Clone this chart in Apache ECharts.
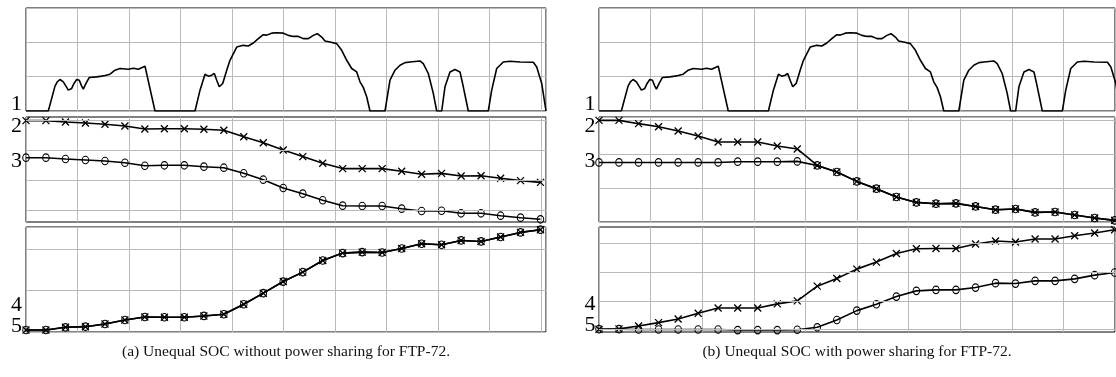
<!DOCTYPE html>
<html>
<head>
<meta charset="utf-8">
<script src="https://cdn.jsdelivr.net/npm/echarts@6/dist/echarts.min.js"></script>
<style>
  html, body { margin: 0; padding: 0; background: #fff; }
  #chart { width: 1116px; height: 377px; }
</style>
</head>
<body>
<div id="chart"></div>
<script>
// FTP-72 drive cycle: time (s) and vehicle speed (km/h)
const SPEED_T = [0, 59.3, 77.1, 83.2, 90.4, 99.2, 108.2, 112.5, 121.5, 127.6, 134.8, 141.7, 148.1, 152.4, 159.5,
  168.3, 188.0, 201.3, 210.1, 223.4, 236.7, 250.0, 272.0, 285.3, 298.6, 316.4, 320.9, 343.0, 449.4, 462.7,
  476.0, 484.7, 493.8, 500.7, 507.1, 514.0, 523.1, 533.7, 542.4, 560.3, 577.8, 591.1, 604.4, 617.7, 631.0,
  640.0, 653.3, 666.6, 684.2, 697.5, 710.8, 724.1, 737.4, 750.7, 763.9, 774.6, 786.3, 795.0, 808.3, 826.2,
  839.5, 852.8, 866.0, 879.3, 888.1, 896.9, 905.9, 914.7, 954.6, 967.9, 981.2, 994.5, 1007.8, 1021.1, 1047.6,
  1056.4, 1069.7, 1083.0, 1092.1, 1105.4, 1114.1, 1127.4, 1140.7, 1154.0, 1162.8, 1176.1, 1229.3, 1238.3, 1251.6,
  1269.2, 1287.0, 1313.6, 1349.0, 1358.0, 1371.3, 1382.7];
const SPEED_KMH = [0, 0, 29.0, 34.0, 36.7, 34.0, 27.5, 24.3, 26.3, 32.1, 36.7, 35.9, 29.0, 25.5, 32.1,
  39.1, 39.8, 40.6, 41.4, 42.9, 47.5, 49.5, 48.7, 49.8, 48.7, 52.2, 50.2, 0, 0, 24.3,
  42.9, 40.6, 41.7, 43.7, 35.9, 28.2, 32.1, 47.5, 59.1, 74.5, 76.5, 75.7, 79.2, 84.3, 88.9,
  88.4, 90.7, 91.2, 90.7, 88.1, 86.9, 86.9, 84.3, 84.3, 88.1, 90.1, 86.1, 81.5, 80.3, 78.5,
  70.7, 59.1, 49.5, 45.5, 34.0, 27.5, 16.6, 0, 0, 35.9, 47.5, 53.3, 56.4, 57.1, 58.3,
  55.3, 43.7, 20.5, 0, 0, 28.2, 45.5, 48.3, 45.5, 28.2, 0, 0, 24.3, 49.5,
  57.1, 58.0, 57.1, 56.8, 51.3, 32.1, 0];

// Sample instants (s) where the pack states are logged
const SAMPLE_T = [0, 53, 105, 158, 210, 263, 316, 368, 421, 473, 526, 579, 631, 684, 736,
  789, 842, 894, 947, 999, 1052, 1105, 1157, 1210, 1262, 1315, 1368];

// (a) without power sharing: SOC (%) of the two packs
const SOC_A_CROSS = [74.9, 74.9, 74.67, 74.5, 74.28, 74.0, 73.5, 73.55, 73.55, 73.45, 73.28, 72.2, 71.2, 70.0,
  68.9, 67.8, 66.9, 66.9, 66.9, 66.45, 65.95, 66.1, 65.67, 65.7, 65.28, 64.9, 64.6];
const SOC_A_CIRCLE = [68.72, 68.72, 68.5, 68.33, 68.17, 67.88, 67.38, 67.45, 67.45, 67.22, 67.05, 66.12, 65.05, 63.67,
  62.72, 61.62, 60.72, 60.67, 60.67, 60.22, 59.83, 59.88, 59.45, 59.45, 59.05, 58.72, 58.45];
// (a) lower trace: both packs identical
const LOW_A = [0.48, 0.48, 1.13, 1.28, 1.93, 2.89, 3.61, 3.54, 3.54, 3.86, 4.27, 6.67, 9.33, 12.12,
  14.39, 17.18, 18.96, 19.2, 19.1, 20.07, 21.2, 20.96, 22.0, 21.76, 22.82, 23.93, 24.58];

// (b) with power sharing
const SOC_B_CROSS = [74.94, 74.94, 74.46, 74.01, 73.38, 72.65, 71.76, 71.76, 71.76, 71.18, 70.74, 68.32, 67.35, 65.97,
  64.9, 63.68, 62.88, 62.69, 62.74, 62.29, 61.81, 61.91, 61.41, 61.47, 61.03, 60.59, 60.24];
const SOC_B_CIRCLE = [68.76, 68.76, 68.76, 68.76, 68.76, 68.76, 68.76, 68.87, 68.87, 68.87, 68.91, 68.32, 67.35, 65.97,
  64.9, 63.68, 62.88, 62.69, 62.74, 62.29, 61.81, 61.91, 61.41, 61.47, 61.03, 60.59, 60.24];
const LOW_B_CROSS = [0.1, 0.2, 1.23, 2.39, 3.68, 5.68, 7.54, 7.54, 7.54, 8.95, 10.0, 15.16, 17.82, 21.12,
  23.58, 26.6, 28.25, 28.35, 28.35, 29.89, 30.95, 30.6, 31.65, 31.65, 32.8, 33.75, 34.91];
const LOW_B_CIRCLE = [0.1, 0.1, 0, 0, 0, 0, 0, -0.2, -0.2, -0.2, -0.1, 0.77, 3.33, 6.6,
  8.84, 11.51, 13.51, 13.86, 13.86, 14.67, 16.21, 16.07, 17.02, 17.02, 17.72, 19.02, 19.93];

// Horizontal reference levels for the rows whose range does not start on a grid level
const GRID_LEVELS_SOC_A = [60, 65, 70, 75];
const GRID_LEVELS_LOW_B = [0, 10, 20, 30];

const CURVE_TAGS = ['1', '2', '3', '4', '5'];
const CAPTIONS = [
  '(a) Unequal SOC without power sharing for FTP-72.',
  '(b) Unequal SOC with power sharing for FTP-72.'
];

const GRID_COLOR = '#b9b9b9';
const SERIF = '"Liberation Serif", "DejaVu Serif", serif';
// cross drawn at roughly its final pixel size so the stroke keeps its width
const CROSS = 'path://M0,0L7,7M7,0L0,7';

const zip = (xs, ys) => xs.map((x, i) => [x, ys[i]]);

const COLS = [
  { left: 26, width: 520, xMax: 1382.7 },
  { left: 599, width: 516, xMax: 1369 }
];
const ROWS = [
  { top: 8, height: 103 },
  { top: 117, height: 105 },
  { top: 227, height: 105 }
];

// y ranges per panel/row: [min, max, interval or null]
const Y_RANGES = [
  [[0, 120, 40], [58, 75.5, null], [0, 25.23, 10]],
  [[0, 120, 40], [60, 75.44, 5], [-0.88, 35.86, null]]
];

const grids = [], xAxes = [], yAxes = [], series = [];

COLS.forEach((c, p) => {
  ROWS.forEach((r, k) => {
    const gi = p * 3 + k;
    grids.push({
      left: c.left, top: r.top, width: c.width, height: r.height,
      show: true, borderColor: '#000', borderWidth: 1, backgroundColor: 'transparent'
    });
    xAxes.push({
      gridIndex: gi, type: 'value', min: 0, max: c.xMax, interval: 136.9,
      axisLine: { show: false }, axisTick: { show: false }, axisLabel: { show: false },
      splitLine: { show: true, lineStyle: { color: GRID_COLOR, width: 1 } }
    });
    const [ymin, ymax, yint] = Y_RANGES[p][k];
    const ya = {
      gridIndex: gi, type: 'value', min: ymin, max: ymax,
      axisLine: { show: false }, axisTick: { show: false }, axisLabel: { show: false },
      splitLine: { show: yint !== null, lineStyle: { color: GRID_COLOR, width: 1 } }
    };
    if (yint !== null) ya.interval = yint;
    yAxes.push(ya);
  });
});

function gridLevels(gi, levels) {
  return {
    type: 'line', xAxisIndex: gi, yAxisIndex: gi, data: [], z: 1, silent: true, symbol: 'none',
    markLine: {
      silent: true, symbol: ['none', 'none'], label: { show: false },
      lineStyle: { color: GRID_COLOR, width: 1, type: 'solid' },
      emphasis: { disabled: true },
      data: levels.map(v => ({ yAxis: v }))
    }
  };
}

function speedSeries(gi) {
  return {
    type: 'line', xAxisIndex: gi, yAxisIndex: gi, data: zip(SPEED_T, SPEED_KMH),
    showSymbol: false, symbol: 'none', z: 3, silent: true,
    lineStyle: { color: '#000', width: 1.6 }
  };
}

function markedSeries(gi, values, kind) {
  const isCross = kind === 'cross';
  return {
    type: 'line', xAxisIndex: gi, yAxisIndex: gi, data: zip(SAMPLE_T, values),
    symbol: isCross ? CROSS : 'circle',
    symbolSize: isCross ? 7 : [6.5, 7.5],
    showAllSymbol: true, z: isCross ? 4 : 3, silent: true,
    lineStyle: { color: '#000', width: 1.6 },
    itemStyle: { color: 'none', borderColor: '#000', borderWidth: isCross ? 1.3 : 1.1 },
    emphasis: { disabled: true }
  };
}

series.push(gridLevels(1, GRID_LEVELS_SOC_A));
series.push(gridLevels(5, GRID_LEVELS_LOW_B));

series.push(speedSeries(0));
series.push(markedSeries(1, SOC_A_CIRCLE, 'circle'));
series.push(markedSeries(1, SOC_A_CROSS, 'cross'));
series.push(markedSeries(2, LOW_A, 'circle'));
series.push(markedSeries(2, LOW_A, 'cross'));

series.push(speedSeries(3));
series.push(markedSeries(4, SOC_B_CIRCLE, 'circle'));
series.push(markedSeries(4, SOC_B_CROSS, 'cross'));
series.push(markedSeries(5, LOW_B_CIRCLE, 'circle'));
series.push(markedSeries(5, LOW_B_CROSS, 'cross'));

// Curve tags at the left of each panel
const TAG_Y = [
  [104, 126.5, 161.5, 305.5, 326],
  [104, 126.5, 161.5, 304, 325.5]
];
const TAG_RIGHT = [22, 595.5];
const graphics = [];
TAG_RIGHT.forEach((xr, p) => {
  CURVE_TAGS.forEach((t, i) => {
    graphics.push({
      type: 'text', x: xr, y: TAG_Y[p][i], silent: true,
      style: {
        text: t, fill: '#000', font: '22px ' + SERIF,
        align: 'right', verticalAlign: 'middle',
        textAlign: 'right', textVerticalAlign: 'middle'
      }
    });
  });
});
CAPTIONS.forEach((cap, p) => {
  graphics.push({
    type: 'text', x: COLS[p].left + COLS[p].width / 2, y: 352, silent: true,
    style: {
      text: cap, fill: '#111', font: '15.5px ' + SERIF,
      align: 'center', verticalAlign: 'middle',
      textAlign: 'center', textVerticalAlign: 'middle'
    }
  });
});

const chart = echarts.init(document.getElementById('chart'), null, { renderer: 'canvas' });
chart.setOption({
  animation: false,
  backgroundColor: '#fff',
  grid: grids,
  xAxis: xAxes,
  yAxis: yAxes,
  series: series,
  graphic: graphics
});
</script>
</body>
</html>
